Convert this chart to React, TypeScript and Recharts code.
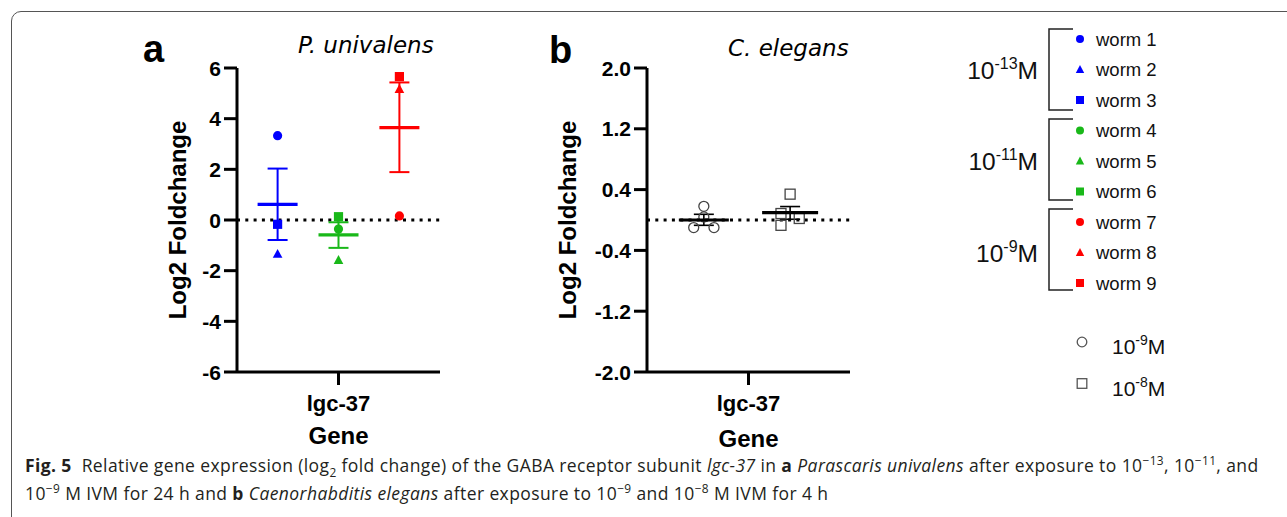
import { ScatterChart, Scatter, XAxis, YAxis, ReferenceLine, ErrorBar } from 'recharts';

// ---- data ----
const GENE = 'lgc-37';

// panel a: P. univalens, one value per worm (circle, triangle, square)
const concA = ['-13', '-11', '-9'];
const colorsA = ['#0000ff', '#19b819', '#ff0000'];
const worms13 = [3.33, -1.34, -0.17];
const worms11 = [-0.36, -1.58, 0.13];
const worms9 = [0.16, 5.17, 5.66];
const meanA = [0.62, -0.59, 3.65];
const semLowA = [-0.79, -1.1, 1.89];
const semHighA = [2.03, -0.09, 5.43];
const ticksA = [-6, -4, -2, 0, 2, 4, 6];

// panel b: C. elegans, four replicates per concentration
const concB = ['-9', '-8'];
const reps9 = [0.18, 0.04, -0.1, -0.1];
const reps8 = [0.34, 0.085, -0.07, 0.02];
const meanB = [0.0, 0.098];
const semLowB = [-0.07, 0.01];
const semHighB = [0.075, 0.177];
const ticksB = [-2.0, -1.2, -0.4, 0.4, 1.2, 2.0];

const wormLabels = ['worm 1', 'worm 2', 'worm 3', 'worm 4', 'worm 5', 'worm 6', 'worm 7', 'worm 8', 'worm 9'];
const wormShapes = ['circle', 'triangle', 'square'];

// ---- layout ----
const groupXA = [0.2, 0.5, 0.8];
const groupXB = [0.28, 0.705];
const jitterB = [
  [0, 0, -0.05, 0.05],
  [0, -0.045, -0.045, 0.045],
];
const CW = 330;
const CH = 430;
const MARGIN = { top: 48, right: 20, bottom: 0, left: 0 };
const BOLD = '"Liberation Sans", Arial, sans-serif';

function Marker({ cx, cy, kind, color, open, s }: any) {
  const fill = open ? 'none' : color;
  const stroke = open ? color : 'none';
  if (kind === 'circle') return <circle cx={cx} cy={cy} r={s} fill={fill} stroke={stroke} strokeWidth={1.3} />;
  if (kind === 'square')
    return <rect x={cx - s} y={cy - s} width={2 * s} height={2 * s} fill={fill} stroke={stroke} strokeWidth={1.3} />;
  return (
    <polygon
      points={`${cx},${cy - s * 1.1} ${cx - s * 1.05},${cy + s * 0.85} ${cx + s * 1.05},${cy + s * 0.85}`}
      fill={fill}
      stroke={stroke}
      strokeWidth={1.3}
    />
  );
}

const meanShape = (half: number, color: string) => (p: any) =>
  <line x1={p.cx - half} x2={p.cx + half} y1={p.cy} y2={p.cy} stroke={color} strokeWidth={3.2} />;

const yTick = (fmt: (v: number) => string) => (p: any) =>
  (
    <text x={p.x} y={p.y} textAnchor="end" dominantBaseline="central" fontFamily={BOLD} fontWeight="bold" fontSize={21} fill="#000">
      {fmt(p.payload.value)}
    </text>
  );

const xTick = (p: any) => (
  <text x={p.x} y={p.y} textAnchor="middle" dominantBaseline="central" fontFamily={BOLD} fontWeight="bold" fontSize={22} fill="#000">
    {GENE}
  </text>
);

const yLabel = (lx: number) => (p: any) => {
  const vb = p.viewBox || { y: 68, height: 304 };
  const cy = vb.y + vb.height / 2;
  return (
    <text x={lx} y={cy} transform={`rotate(-90 ${lx} ${cy})`} textAnchor="middle" dominantBaseline="central" fontFamily={BOLD} fontWeight="bold" fontSize={24} fill="#000">
      Log2 Foldchange
    </text>
  );
};

const xLabel = (dy: number) => (p: any) => {
  const vb = p.viewBox || { x: 107, width: 203, y: 372 };
  return (
    <text x={vb.x + vb.width / 2} y={vb.y + dy} textAnchor="middle" dominantBaseline="central" fontFamily={BOLD} fontWeight="bold" fontSize={24} fill="#000">
      Gene
    </text>
  );
};

function Axes({ domain, ticks, fmt, geneDy, labelX }: any) {
  return [
    <XAxis
      key="x"
      type="number"
      dataKey="x"
      domain={[0, 1]}
      ticks={[0.5]}
      height={78}
      axisLine={{ stroke: '#000', strokeWidth: 3 }}
      tickLine={{ stroke: '#000', strokeWidth: 3 }}
      tickSize={13}
      tickMargin={18}
      tick={xTick}
      label={{ content: xLabel(geneDy) }}
    />,
    <YAxis
      key="y"
      type="number"
      dataKey="y"
      domain={domain}
      ticks={ticks}
      width={107}
      interval={0}
      axisLine={{ stroke: '#000', strokeWidth: 3 }}
      tickLine={{ stroke: '#000', strokeWidth: 3 }}
      tickSize={13}
      tickMargin={3}
      tick={yTick(fmt)}
      label={{ content: yLabel(labelX) }}
    />,
    <ReferenceLine key="ref" y={0} stroke="#000" strokeWidth={3} strokeDasharray="3 5.3" />,
  ];
}

function PanelA() {
  const groups = [worms13, worms11, worms9];
  return (
    <ScatterChart width={CW} height={CH} margin={MARGIN}>
      {Axes({ domain: [-6, 6], ticks: ticksA, fmt: (v: number) => String(v), geneDy: 63, labelX: 47 })}
      {groups.map((vals, g) => (
        <Scatter
          key={'m' + g}
          data={[{ x: groupXA[g], y: meanA[g], err: [meanA[g] - semLowA[g], semHighA[g] - meanA[g]] }]}
          shape={meanShape(20, colorsA[g])}
          isAnimationActive={false}
        >
          <ErrorBar dataKey="err" direction="y" width={10} stroke={colorsA[g]} strokeWidth={2} />
        </Scatter>
      ))}
      {groups.map((vals, g) => (
        <Scatter
          key={'p' + g}
          data={vals.map((v, i) => ({ x: groupXA[g], y: v, kind: wormShapes[i] }))}
          shape={(p: any) => <Marker cx={p.cx} cy={p.cy} kind={p.payload?.kind ?? p.kind} color={colorsA[g]} s={4.6} />}
          isAnimationActive={false}
        />
      ))}
    </ScatterChart>
  );
}

function PanelB() {
  const groups = [reps9, reps8];
  const kinds = ['circle', 'square'];
  const halves = [25, 28];
  return (
    <ScatterChart width={CW} height={CH} margin={MARGIN}>
      {Axes({ domain: [-2, 2], ticks: ticksB, fmt: (v: number) => v.toFixed(1), geneDy: 66, labelX: 27 })}
      {groups.map((vals, g) => (
        <Scatter
          key={'p' + g}
          data={vals.map((v, i) => ({ x: groupXB[g] + jitterB[g][i], y: v }))}
          shape={(p: any) => <Marker cx={p.cx} cy={p.cy} kind={kinds[g]} color="#444" open s={5} />}
          isAnimationActive={false}
        />
      ))}
      {groups.map((vals, g) => (
        <Scatter
          key={'m' + g}
          data={[{ x: groupXB[g], y: meanB[g], err: [meanB[g] - semLowB[g], semHighB[g] - meanB[g]] }]}
          shape={meanShape(halves[g], '#000')}
          isAnimationActive={false}
        >
          <ErrorBar dataKey="err" direction="y" width={10} stroke="#000" strokeWidth={1.6} />
        </Scatter>
      ))}
    </ScatterChart>
  );
}

function Overlay() {
  const rowY = (i: number) => 39 + i * 30.5;
  return (
    <svg width={1287} height={517} style={{ position: 'absolute', left: 0, top: 0 }}>
      <text x={143} y={62} fontFamily={BOLD} fontWeight="bold" fontSize={38}>a</text>
      <text x={298} y={53} fontFamily='"DejaVu Sans", Verdana, sans-serif' fontStyle="italic" fontSize={23}>P. univalens</text>
      <text x={549} y={63} fontFamily={BOLD} fontWeight="bold" fontSize={38}>b</text>
      <text x={728} y={56} fontFamily='"DejaVu Sans", Verdana, sans-serif' fontStyle="italic" fontSize={23}>C. elegans</text>

      {concA.map((c, g) => {
        const top = 29 + g * 90;
        const bot = top + 81;
        return (
          <g key={c}>
            <path d={`M1073 ${top} H1049 V${bot} H1073`} fill="none" stroke="#222" strokeWidth={1.5} />
            <text x={1038} y={rowY(g * 3 + 1) + 9} textAnchor="end" fontFamily={BOLD} fontSize={24.5} fill="#111">
              10<tspan dy={-10} fontSize={16}>{c}</tspan><tspan dy={10}>M</tspan>
            </text>
          </g>
        );
      })}
      {wormLabels.map((w, i) => (
        <g key={w}>
          <Marker cx={1080} cy={rowY(i)} kind={wormShapes[i % 3]} color={colorsA[Math.floor(i / 3)]} s={4} />
          <text x={1096} y={rowY(i)} dominantBaseline="central" fontFamily={BOLD} fontSize={18.5} fill="#111">{w}</text>
        </g>
      ))}
      {concB.map((c, g) => {
        const y = 342 + g * 41.5;
        return (
          <g key={c}>
            <Marker cx={1082} cy={y} kind={g === 0 ? 'circle' : 'square'} color="#555" open s={4.8} />
            <text x={1112} y={y + 12} fontFamily={BOLD} fontSize={21} fill="#111">
              10<tspan dy={-9} fontSize={14}>{c}</tspan><tspan dy={9}>M</tspan>
            </text>
          </g>
        );
      })}
    </svg>
  );
}

const sup = (t: string) => <sup style={{ fontSize: '0.68em', lineHeight: 0, verticalAlign: '0.55em' }}>{t}</sup>;

export default function App() {
  return (
    <div style={{ position: 'absolute', left: 0, top: 0, width: 1287, height: 517, overflow: 'hidden', background: '#fff' }}>
      <div
        style={{
          position: 'absolute', left: 11, top: 11, width: 1300, height: 540,
          border: '1.5px solid #555', borderRadius: 10, boxSizing: 'border-box',
        }}
      />
      <Overlay />
      <div style={{ position: 'absolute', left: 130, top: 20 }}><PanelA /></div>
      <div style={{ position: 'absolute', left: 540, top: 20 }}><PanelB /></div>
      <div
        style={{
          position: 'absolute', left: 25, top: 451, whiteSpace: 'nowrap', color: '#231f20',
          fontFamily: '"Open Sans", "Noto Sans", sans-serif', fontSize: 17.5, lineHeight: '28px', letterSpacing: 0.4,
        }}
      >
        <b>Fig. 5</b>&nbsp; Relative gene expression (log<sub style={{ fontSize: '0.68em', lineHeight: 0 }}>2</sub> fold change) of the GABA receptor subunit <i>lgc-37</i> in <b>a</b> <i>Parascaris univalens</i> after exposure to 10{sup('−13')}, 10{sup('−11')}, and
        <br />
        10{sup('−9')} M IVM for 24 h and <b>b</b> <i>Caenorhabditis elegans</i> after exposure to 10{sup('−9')} and 10{sup('−8')} M IVM for 4 h
      </div>
    </div>
  );
}
